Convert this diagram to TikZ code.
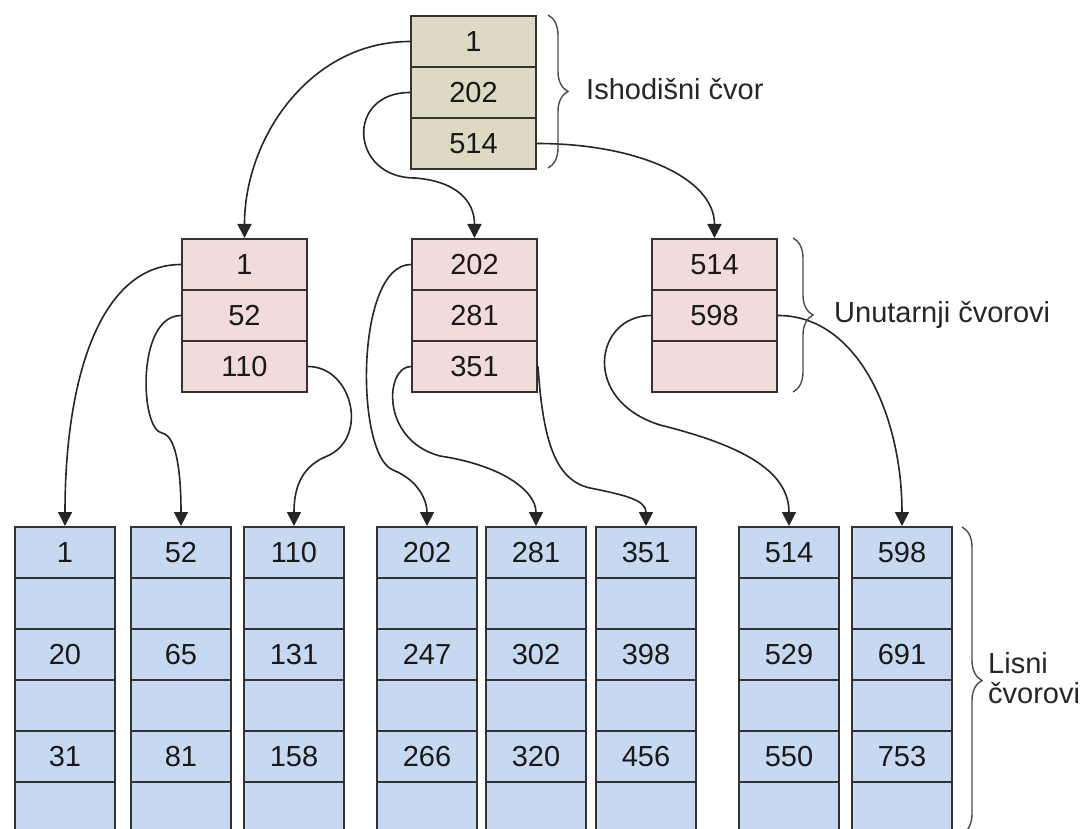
\documentclass[tikz,border=0pt]{standalone}
\usepackage{fontspec}
\setmainfont{Liberation Sans}
\usetikzlibrary{arrows.meta,decorations.pathreplacing}
\definecolor{rootfill}{HTML}{DDD9C3}
\definecolor{infill}{HTML}{F2DCDB}
\definecolor{leaffill}{HTML}{C6D9F1}
\begin{document}
\begin{tikzpicture}[x=1pt,y=-1pt,font=\fontsize{29}{30}\selectfont,
	cell/.style={draw=black!80, line width=2pt, minimum height=51pt, inner sep=0pt, anchor=north west, text=black!90},
	rootcell/.style={cell, fill=rootfill, minimum width=125pt},
	incell/.style={cell, fill=infill, minimum width=125pt},
	leafcell/.style={cell, fill=leaffill, minimum width=100pt},
	link/.style={line width=1.6pt, draw=black!85, -{Triangle[width=14pt,length=14pt]}},
	groupbrace/.style={decorate, decoration={brace, amplitude=20pt}, line width=1.4pt, draw=black!70},
	grouplabel/.style={inner sep=0pt, text=black!85}]
	\clip (0,0) rectangle (1088,829);
	% cvorovi
	\foreach \j/\t in {1/1,2/202,3/514}
		\node[rootcell] (root-\j) at (410,{15+51*(\j-1)}) {\t};
	\foreach \i/\x/\a/\b/\c in {1/181/1/52/110, 2/411/202/281/351, 3/651/514/598/{}}
		\foreach \j/\t in {1/\a,2/\b,3/\c}
			\node[incell] (in\i-\j) at (\x,{238+51*(\j-1)}) {\t};
	\foreach \i/\x/\a/\b/\c in {1/14/1/20/31, 2/130/52/65/81, 3/243/110/131/158, 4/376/202/247/266, 5/485/281/302/320, 6/595/351/398/456, 7/738/514/529/550, 8/851/598/691/753}
		\foreach \j/\t in {1/\a,2/{},3/\b,4/{},5/\c,6/{}}
			\node[leafcell] (leaf\i-\j) at (\x,{526+51*(\j-1)}) {\t};
	% pregibi
	\coordinate (bend2) at (415,178);
	\coordinate (bend5) at (162,433);
	\coordinate (bend6) at (325,457);
	\coordinate (bend7) at (393,470);
	\coordinate (bend8) at (440,456);
	\coordinate (bend9) at (590,488);
	\coordinate (bend10) at (660,425);
	% veze
	\draw[link] (root-1.west) .. controls +(-100,0) and +(0,-100) .. (in1-1.north);
	\draw[link] (root-2.west) .. controls +(-65,0) and +(-65,0) .. (bend2) .. controls +(40,3) and +(0,-38) .. (in2-1.north);
	\draw[link] (root-3.east) .. controls +(100,0) and +(0,-60) .. (in3-1.north);
	\draw[link] (in1-1.west) .. controls +(-80,0) and +(0,-150) .. (leaf1-1.north);
	\draw[link] (in1-2.west) .. controls +(-45,0) and +(-22,-3) .. (bend5) .. controls +(16,3) and +(0,-46) .. (leaf2-1.north);
	\draw[link] (in1-3.east) .. controls +(45,0) and +(45,-17) .. (bend6) .. controls +(-25,11) and +(0,-36) .. (leaf3-1.north);
	\draw[link] (in2-1.west) .. controls +(-56,0) and +(-38,-15) .. (bend7) .. controls +(25,10) and +(0,-26) .. (leaf4-1.north);
	\draw[link] (in2-3.west) .. controls +(-26,0) and +(-60,-16) .. (bend8) .. controls +(60,9) and +(0,-36) .. (leaf5-1.north);
	\draw[link] (in2-3.east) .. controls +(5,74) and +(-35,-8) .. (bend9) .. controls +(35,7) and +(0,-26) .. (leaf6-1.north);
	\draw[link] (in3-2.west) .. controls +(-56,0) and +(-80,-25) .. (bend10) .. controls +(80,20) and +(0,-56) .. (leaf7-1.north);
	\draw[link] (in3-2.east) .. controls +(80,0) and +(0,-110) .. (leaf8-1.north);
	% zagrade
	\draw[groupbrace] (548,15) -- (548,168);
	\draw[groupbrace] (793,238) -- (793,392);
	\draw[groupbrace] (962,527) -- (962,834);
	\node[grouplabel, anchor=base west] (rootlabel) at (586,100) {Ishodišni čvor};
	\node[grouplabel, anchor=base west] (inlabel) at (834,323) {Unutarnji čvorovi};
	\node[grouplabel, anchor=west, align=left] (leaflabel) at (988,678) {Lisni\\čvorovi};
\end{tikzpicture}
\end{document}
